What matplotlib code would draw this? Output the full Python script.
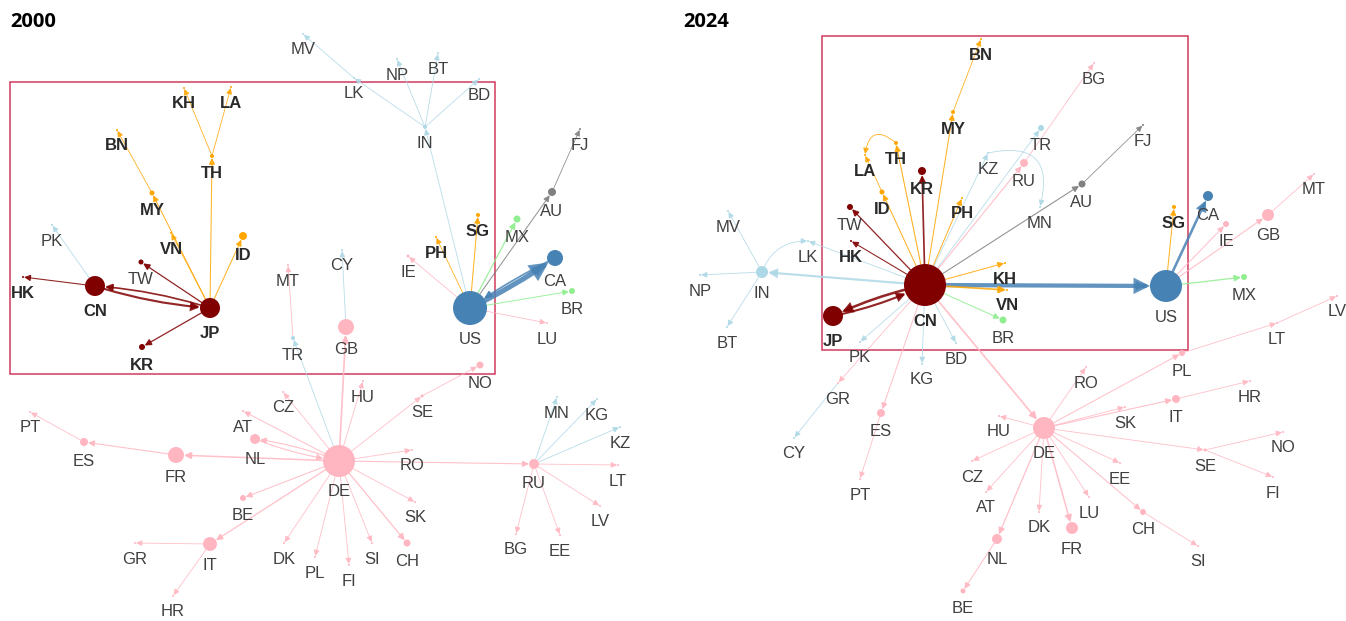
import matplotlib.pyplot as plt
from matplotlib.patches import FancyArrowPatch, Rectangle

# colour per region
COLORS = {
    "east": "#800000",
    "asean": "#FFA500",
    "south": "#ADD8E6",
    "na": "#4682B4",
    "latam": "#90EE90",
    "oce": "#808080",
    "eu": "#FFB6C1",
}
GROUP = {}
for c in ["CN", "JP", "KR", "HK", "TW"]:
    GROUP[c] = "east"
for c in ["MY", "VN", "ID", "TH", "BN", "KH", "LA", "PH", "SG"]:
    GROUP[c] = "asean"
for c in ["IN", "LK", "MV", "NP", "BT", "BD", "PK", "TR", "CY", "MN", "KG", "KZ"]:
    GROUP[c] = "south"
for c in ["US", "CA"]:
    GROUP[c] = "na"
for c in ["MX", "BR"]:
    GROUP[c] = "latam"
for c in ["AU", "FJ"]:
    GROUP[c] = "oce"
BOLD = {"CN", "JP", "KR", "HK", "MY", "VN", "ID", "TH", "BN", "KH", "LA", "PH", "SG"}

# ---- 2000 ----
nodes_2000 = ["CN", "JP", "HK", "TW", "KR", "PK", "VN", "MY", "BN", "TH", "KH", "LA", "ID",
              "US", "CA", "AU", "FJ", "MX", "BR", "LU", "IE", "PH", "SG",
              "IN", "LK", "MV", "NP", "BT", "BD",
              "DE", "GB", "CY", "TR", "MT", "HU", "SE", "NO", "RO", "RU", "MN", "KG", "KZ",
              "LT", "LV", "EE", "BG", "SK", "CH", "SI", "FI", "PL", "DK", "BE", "IT", "GR",
              "HR", "FR", "ES", "PT", "AT", "CZ", "NL"]
x_2000 = [95, 210, 23, 141, 142, 52, 171, 152, 117, 212, 184, 231, 243,
          470, 555, 552, 580, 517, 572, 547, 408, 436, 478,
          425, 354, 303, 397, 438, 479,
          339, 346, 342, 293, 288, 363, 422, 480, 412, 534, 557, 597, 620,
          618, 600, 560, 516, 415, 407, 372, 349, 315, 284, 243, 210, 135,
          173, 176, 84, 30, 243, 283, 255]
y_2000 = [286, 308, 277, 262, 347, 225, 233, 193, 130, 156, 88, 87, 236,
          308, 258, 192, 129, 219, 291, 323, 256, 237, 215,
          127, 78, 34, 59, 53, 79,
          461, 327, 250, 338, 265, 381, 396, 365, 450, 464, 397, 399, 427,
          465, 506, 535, 534, 502, 543, 543, 565, 557, 543, 498, 544, 543,
          596, 455, 442, 412, 411, 392, 439]
val_2000 = [10, 10, 1, 2.5, 3, 1, 1, 2.5, 1, 2, 1, 1, 4,
            17, 8, 4, 1, 3.5, 3, 1, 1.5, 1, 2,
            2, 1, 1, 1, 1, 1,
            16, 8, 1, 2, 1, 1, 1.5, 3.5, 1, 5, 1, 1, 1,
            1, 1, 1, 1, 1, 3.5, 1, 1, 1, 1, 3, 7, 1,
            1, 8, 4, 1, 1, 1, 5]
edges_2000 = [("CN", "JP", 2.5), ("JP", "CN", 2), ("CN", "HK", 1.3), ("CN", "PK", 1),
              ("JP", "TW", 1.5), ("JP", "KR", 1.5), ("JP", "VN", 1), ("JP", "MY", 1.2),
              ("MY", "BN", 1), ("JP", "TH", 1.2), ("TH", "KH", 1), ("TH", "LA", 1),
              ("JP", "ID", 1.2),
              ("US", "CA", 6), ("CA", "US", 2), ("US", "AU", 1.2), ("AU", "FJ", 1),
              ("US", "MX", 1.5), ("US", "BR", 1.2), ("US", "LU", 1), ("US", "IE", 1),
              ("US", "PH", 1), ("US", "SG", 1.2), ("US", "IN", 1),
              ("IN", "LK", 1), ("LK", "MV", 1), ("IN", "NP", 1), ("IN", "BT", 1), ("IN", "BD", 1),
              ("DE", "GB", 2), ("GB", "CY", 1), ("DE", "TR", 1), ("TR", "MT", 1),
              ("DE", "HU", 1), ("DE", "SE", 1), ("SE", "NO", 1), ("DE", "RO", 1),
              ("DE", "RU", 1.3), ("RU", "MN", 1), ("RU", "KG", 1), ("RU", "KZ", 1),
              ("RU", "LT", 1), ("RU", "LV", 1), ("RU", "EE", 1), ("RU", "BG", 1),
              ("DE", "SK", 1), ("DE", "CH", 1.5), ("DE", "SI", 1), ("DE", "FI", 1),
              ("DE", "PL", 1), ("DE", "DK", 1), ("DE", "BE", 1.2), ("DE", "IT", 1.5),
              ("IT", "GR", 1), ("IT", "HR", 1), ("DE", "FR", 1.8), ("FR", "ES", 1.3),
              ("ES", "PT", 1), ("DE", "NL", 1.3), ("NL", "DE", 1.3), ("DE", "AT", 1.2),
              ("DE", "CZ", 1)]
bends_2000 = {("CN", "JP"): 0.06, ("JP", "CN"): 0.06, ("US", "CA"): 0.04,
              ("CA", "US"): 0.04, ("DE", "NL"): 0.06, ("NL", "DE"): 0.06}

# ---- 2024 ----
nodes_2024 = ["CN", "JP", "US", "KR", "TW", "HK", "ID", "LA", "TH", "MY", "BN", "PH", "KH",
              "VN", "BR", "SG", "CA", "IE", "GB", "MT", "MX", "AU", "FJ", "TR", "BG", "RU",
              "KZ", "MN", "KG", "BD", "PK", "GR", "CY", "ES", "PT", "IN", "LK", "MV", "NP",
              "BT", "DE", "PL", "LT", "LV", "IT", "HR", "SK", "SE", "NO", "FI", "EE", "CH",
              "SI", "LU", "FR", "DK", "NL", "BE", "AT", "CZ", "HU", "RO"]
x_2024 = [925, 833, 1166, 922, 850, 851, 882, 865, 896, 953, 981, 962, 1005,
          1007, 1003, 1174, 1208, 1226, 1268, 1314, 1244, 1082, 1143, 1041, 1094, 1024,
          988, 1040, 922, 956, 860, 838, 794, 881, 860, 762, 808, 728, 700,
          727, 1044, 1182, 1277, 1337, 1176, 1250, 1125, 1205, 1283, 1273, 1120, 1143,
          1198, 1089, 1072, 1039, 997, 963, 986, 972, 999, 1086]
y_2024 = [285, 316, 286, 171, 207, 241, 192, 155, 143, 112, 39, 198, 263,
          290, 320, 207, 196, 224, 215, 174, 277, 184, 125, 128, 63, 163,
          153, 207, 364, 343, 342, 383, 438, 413, 479, 272, 241, 211, 275,
          327, 428, 353, 323, 296, 399, 381, 407, 450, 432, 477, 463, 512,
          546, 497, 528, 512, 539, 591, 492, 461, 416, 367]
val_2024 = [21, 10, 16, 4, 3, 1, 2.5, 1, 2, 2, 1, 1, 1,
            1, 3.5, 2, 5, 3, 6, 1, 3, 3.5, 1, 3, 1, 4,
            1, 1, 1, 1, 1, 1, 1, 4, 1, 6, 1, 1, 1,
            1, 11, 3, 1, 1, 4, 1, 1, 1.5, 1, 1, 1, 3,
            1, 1, 6, 1, 5, 2.5, 1, 1, 1, 1]
edges_2024 = [("CN", "US", 5), ("CN", "JP", 3), ("JP", "CN", 2.5), ("CN", "KR", 2),
              ("CN", "TW", 1.5), ("CN", "HK", 1.3), ("CN", "ID", 1.2), ("ID", "LA", 1),
              ("TH", "LA", 1), ("CN", "TH", 1.3), ("CN", "MY", 1.2), ("MY", "BN", 1),
              ("CN", "PH", 1.2), ("CN", "KH", 1.2), ("CN", "VN", 2), ("CN", "BR", 1.2),
              ("CN", "AU", 1.3), ("AU", "FJ", 1), ("CN", "TR", 1), ("CN", "RU", 1.3),
              ("RU", "BG", 1), ("CN", "KZ", 1), ("KZ", "MN", 1), ("CN", "IN", 2.5),
              ("IN", "MV", 1), ("IN", "NP", 1), ("IN", "BT", 1), ("IN", "LK", 1),
              ("CN", "LK", 1), ("CN", "PK", 1), ("CN", "KG", 1), ("CN", "BD", 1),
              ("CN", "GR", 1), ("GR", "CY", 1), ("CN", "ES", 1.2), ("ES", "PT", 1),
              ("CN", "DE", 2),
              ("US", "SG", 1.2), ("US", "CA", 3), ("US", "IE", 1.2), ("US", "GB", 1.3),
              ("GB", "MT", 1), ("US", "MX", 1.5),
              ("DE", "PL", 1.2), ("PL", "LT", 1), ("LT", "LV", 1), ("DE", "IT", 1.3),
              ("IT", "HR", 1), ("DE", "SK", 1), ("DE", "SE", 1), ("SE", "NO", 1),
              ("SE", "FI", 1), ("DE", "EE", 1), ("DE", "CH", 1.3), ("CH", "SI", 1),
              ("DE", "LU", 1), ("DE", "FR", 1.8), ("DE", "DK", 1), ("DE", "NL", 1.5),
              ("NL", "BE", 1.2), ("DE", "AT", 1), ("DE", "CZ", 1), ("DE", "HU", 1),
              ("DE", "RO", 1)]
bends_2024 = {("CN", "JP"): 0.06, ("JP", "CN"): 0.06, ("TH", "LA"): 0.9,
              ("IN", "LK"): -0.35, ("KZ", "MN"): -0.8}

BOX_COLOR = "#d03a5c"
PX = 0.72  # points per pixel at dpi 100


def draw(ax, title, nodes, xs, ys, vals, edges, bends, box, xmin):
    ax.set_xlim(xmin, xmin + 673)
    ax.set_ylim(621, 0)
    ax.axis("off")
    pos = {n: (x, y) for n, x, y in zip(nodes, xs, ys)}
    rad = {n: v for n, v in zip(nodes, vals)}
    for s, t, w in edges:
        arr = FancyArrowPatch(
            pos[s], pos[t],
            arrowstyle="-|>,head_length=0.6,head_width=0.3",
            mutation_scale=4.5 + 1.4 * w,
            lw=w * PX * 0.85, color=COLORS[GROUP.get(t, "eu")], alpha=0.85,
            shrinkA=rad[s] * PX, shrinkB=rad[t] * PX,
            connectionstyle=f"arc3,rad={bends.get((s, t), 0)}",
            joinstyle="miter", zorder=1)
        ax.add_patch(arr)
    ax.scatter(xs, ys, s=[(1.44 * v) ** 2 for v in vals],
               c=[COLORS[GROUP.get(n, "eu")] for n in nodes],
               linewidths=0, zorder=3)
    for n, x, y, v in zip(nodes, xs, ys, vals):
        bold = n in BOLD
        ax.text(x, y + 15 + v, n, ha="center", va="center", fontsize=12,
                family="Liberation Sans", fontweight="bold" if bold else "normal",
                color="#2a2a2a" if bold else "#404040", zorder=4)
    x0, y0, x1, y1 = box
    ax.add_patch(Rectangle((x0, y0), x1 - x0, y1 - y0, fill=False,
                           ec=BOX_COLOR, lw=1.1, zorder=0))
    ax.text(xmin + 10, 22, title, fontsize=14.5, fontweight="bold",
            family="Open Sans", va="center", ha="left", color="black")


fig = plt.figure(figsize=(13.46, 6.21), dpi=100)
ax1 = fig.add_axes([0, 0, 0.5, 1])
ax2 = fig.add_axes([0.5, 0, 0.5, 1])
draw(ax1, "2000", nodes_2000, x_2000, y_2000, val_2000, edges_2000, bends_2000,
     (10, 82, 495, 374), 0)
draw(ax2, "2024", nodes_2024, x_2024, y_2024, val_2024, edges_2024, bends_2024,
     (822, 36, 1188, 350), 673)
fig.savefig("out.png", dpi=100)
